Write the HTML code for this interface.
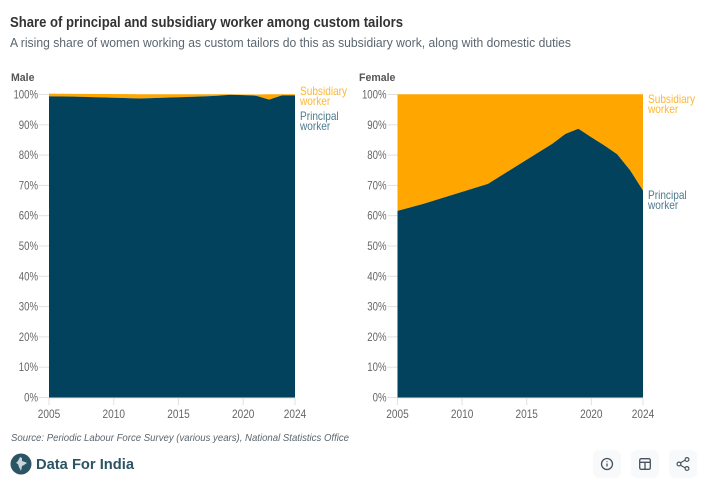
<!DOCTYPE html>
<html>
<head>
<meta charset="utf-8">
<style>
html,body{margin:0;padding:0;background:#fff;width:710px;height:487px;overflow:hidden}
svg{display:block}
text{font-family:"Liberation Sans",Arial,sans-serif}
</style>
</head>
<body>
<svg id="root" width="710" height="487" viewBox="0 0 710 487" xmlns="http://www.w3.org/2000/svg">
  <text x="10" y="27" font-size="14.5" font-weight="700" fill="#333" textLength="393" lengthAdjust="spacingAndGlyphs">Share of principal and subsidiary worker among custom tailors</text>
  <text x="10" y="47" font-size="12.5" fill="#5b6670" textLength="561" lengthAdjust="spacingAndGlyphs">A rising share of women working as custom tailors do this as subsidiary work, along with domestic duties</text>
  <g id="charts"></g>
  <text x="11" y="441" font-size="10.5" font-style="italic" fill="#5b6670" textLength="338" lengthAdjust="spacingAndGlyphs">Source: Periodic Labour Force Survey (various years), National Statistics Office</text>
  <g>
    <circle cx="21" cy="464" r="10.5" fill="#2b5464"/>
    <path d="M20 457l2 1 0 3 3 1 2 1-3 2-2 1-1 5-2-4-1-3-2-1 2-2 1-2z" fill="#c9d6db"/>
    <text x="36" y="469" font-size="15" font-weight="700" fill="#2b5464" textLength="98" lengthAdjust="spacingAndGlyphs">Data For India</text>
  </g>
  <g>
    <rect x="593" y="450" width="28" height="28" rx="6" fill="#f8f9fa"/>
    <circle cx="607" cy="464" r="5.5" fill="none" stroke="#49525c" stroke-width="1.3"/>
    <path d="M607 463.5v3M607 461.2v.9" stroke="#49525c" stroke-width="1.3" fill="none"/>
  </g>
  <g>
    <rect x="631" y="450" width="28" height="28" rx="6" fill="#f8f9fa"/>
    <rect x="639.7" y="458.7" width="10.6" height="10.6" rx="1.5" fill="none" stroke="#49525c" stroke-width="1.3"/>
    <path d="M640 462.3h10M645 462.3v7" stroke="#49525c" stroke-width="1.3" fill="none"/>
  </g>
  <g>
    <rect x="669" y="450" width="28" height="28" rx="6" fill="#f8f9fa"/>
    <path d="M680 463l5.500-3M680 465l5.500 3" stroke="#49525c" stroke-width="1.2" fill="none"/>
    <circle cx="679" cy="464" r="1.900" fill="none" stroke="#49525c" stroke-width="1.2"/>
    <circle cx="687" cy="459.500" r="1.900" fill="none" stroke="#49525c" stroke-width="1.2"/>
    <circle cx="687" cy="468.500" r="1.900" fill="none" stroke="#49525c" stroke-width="1.2"/>
  </g>
</svg>
<script>
const years = [2005, 2007, 2012, 2017, 2018, 2019, 2020, 2021, 2022, 2023, 2024];
const malePrincipal = [99.4, 99.3, 98.7, 99.4, 99.6, 99.9, 99.8, 99.6, 98.3, 99.7, 99.7];
const maleSubsidiary = [0.9, 0.9, 1.4, 0.7, 0.5, 0.2, 0.2, 0.4, 1.8, 0.4, 0.4];
const femalePrincipal = [61.6, 63.9, 70.5, 83.8, 87.0, 88.7, 85.9, 83.2, 80.3, 75.0, 68.3];
const femaleSubsidiary = [38.5, 36.2, 29.6, 16.3, 13.1, 11.4, 14.2, 16.9, 19.8, 25.1, 31.8];
const yTicks = [0, 10, 20, 30, 40, 50, 60, 70, 80, 90, 100];
const xTicks = [2005, 2010, 2015, 2020, 2024];

const NS = 'http://www.w3.org/2000/svg';
const host = document.getElementById('charts');
const yScale = v => 397.5 - (v / 100) * 303;

function make(parent, tag, attrs, txt) {
  const el = document.createElementNS(NS, tag);
  for (const k in attrs) el.setAttribute(k, attrs[k]);
  if (txt !== undefined) el.textContent = txt;
  parent.appendChild(el);
  return el;
}

function condense(el, ratio) {
  el.setAttribute('textLength', (el.getComputedTextLength() * ratio).toFixed(2));
  el.setAttribute('lengthAdjust', 'spacingAndGlyphs');
}

function drawPanel(prefix, title, titleX, left, right, principal, subsidiary, subLabelY, priLabelY) {
  const xScale = y => left + (y - 2005) / (2024 - 2005) * (right - left);
  const g = make(host, 'g', {});
  
  

  const t = make(g, 'text', {x: titleX, y: 81, 'font-size': 11, 'font-weight': 700, fill: '#555'}, title);
  
  
  condense(t, 0.96);

  yTicks.forEach(v => {
    const line = make(g, 'line', {x1: left - 10, x2: left, y1: yScale(v), y2: yScale(v), stroke: '#e0e0e0', 'stroke-width': 1});
    
    
    const lab = make(g, 'text', {x: left - 11, y: yScale(v) + 4, 'font-size': 12, fill: '#666', 'text-anchor': 'end'}, v + '%');
    
    
    condense(lab, 0.8);
  });

  const tops = principal.map((v, i) => v + subsidiary[i]);
  const subPts = years.map((y, i) => xScale(y) + ',' + yScale(tops[i]))
    .concat(years.slice().reverse().map((y, i) => xScale(y) + ',' + yScale(principal[years.length - 1 - i])));
  const sub = make(g, 'polygon', {points: subPts.join(' '), fill: '#ffa600'});
  
  

  const priPts = years.map((y, i) => xScale(y) + ',' + yScale(principal[i]))
    .concat([xScale(2024) + ',' + yScale(0), xScale(2005) + ',' + yScale(0)]);
  const pri = make(g, 'polygon', {points: priPts.join(' '), fill: '#02425c'});
  
  

  const axis = make(g, 'line', {x1: left, x2: right, y1: yScale(0) + 0.5, y2: yScale(0) + 0.5, stroke: '#e0e0e0', 'stroke-width': 1});
  
  

  xTicks.forEach(y => {
    const tick = make(g, 'line', {x1: xScale(y), x2: xScale(y), y1: 398, y2: 405, stroke: '#e0e0e0', 'stroke-width': 1});
    
    
    const lab = make(g, 'text', {x: xScale(y), y: 418, 'font-size': 12, fill: '#666', 'text-anchor': 'middle'}, y);
    
    
    condense(lab, 0.84);
  });

  const lx = right + 5;
  const s1 = make(g, 'text', {x: lx, y: subLabelY, 'font-size': 12, fill: '#ffb733'}, 'Subsidiary');
  
  
  condense(s1, 0.84);
  const s2 = make(g, 'text', {x: lx, y: subLabelY + 10, 'font-size': 12, fill: '#ffb733'}, 'worker');
  
  
  condense(s2, 0.84);
  const p1 = make(g, 'text', {x: lx, y: priLabelY, 'font-size': 12, fill: '#4d7a8d'}, 'Principal');
  
  
  condense(p1, 0.84);
  const p2 = make(g, 'text', {x: lx, y: priLabelY + 10, 'font-size': 12, fill: '#4d7a8d'}, 'worker');
  
  
  condense(p2, 0.84);
}

drawPanel('male', 'Male', 11, 49, 295, malePrincipal, maleSubsidiary, 95, 120);
drawPanel('female', 'Female', 359, 397.5, 643, femalePrincipal, femaleSubsidiary, 103, 199);
</script>
</body>
</html>
